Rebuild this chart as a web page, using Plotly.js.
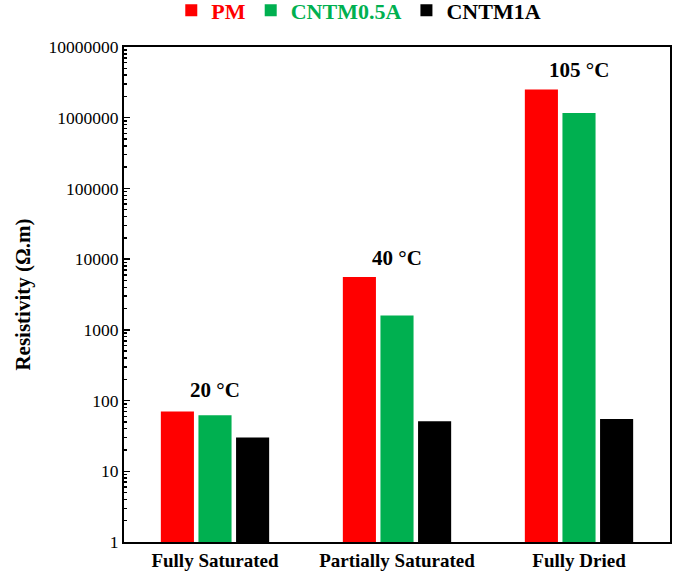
<!DOCTYPE html>
<html><head><meta charset="utf-8">
<script src="https://cdn.plot.ly/plotly-3.0.1.min.js"></script>
<style>html,body{margin:0;padding:0;background:#fff;}</style>
</head><body>
<div id="chart" style="width:678px;height:579px;"></div>
<script>
const categories = ["Fully Saturated", "Partially Saturated", "Fully Dried"];
const seriesNames = ["PM", "CNTM0.5A", "CNTM1A"];
const PM = [70, 5600, 2500000];
const CNTM05A = [62, 1600, 1170000];
const CNTM1A = [30, 51, 55];
const tempLabels = ["20 °C", "40 °C", "105 °C"];
const tempLabelY = [140, 10500, 4700000];
const colors = ["#FF0000", "#00B050", "#000000"];

const values = [PM, CNTM05A, CNTM1A];
const data = values.map((v, i) => ({
  type: "bar",
  x: categories,
  y: v,
  name: '<b><span style="color:' + colors[i] + '">' + seriesNames[i] + '</span></b>',
  marker: {color: colors[i], line: {width: 0}}
}));

const annotations = categories.map((c, i) => ({
  x: c, y: Math.log10(tempLabelY[i]), xref: "x", yref: "y",
  text: "<b>" + tempLabels[i] + "</b>", showarrow: false,
  font: {family: "Liberation Serif", size: 21, color: "#000"}
}));

const layout = {
  width: 678, height: 579,
  margin: {l: 124, r: 8, t: 47, b: 37, autoexpand: false},
  paper_bgcolor: "#fff", plot_bgcolor: "#fff",
  barmode: "group", bargap: 0.38, bargroupgap: 0.12,
  font: {family: "Liberation Serif", color: "#000"},
  showlegend: true,
  legend: {orientation: "h", xref: "paper", x: 0.43, xanchor: "center", yref: "container", y: 0.982, yanchor: "middle",
    font: {family: "Liberation Serif", size: 22}, tracegroupgap: 0},
  xaxis: {
    showline: true, linecolor: "#000", linewidth: 2, mirror: true,
    ticks: "", tickfont: {family: "Liberation Serif", size: 19, weight: "bold"},
    showgrid: false
  },
  yaxis: {
    type: "log", range: [0, 7],
    showline: true, linecolor: "#000", linewidth: 2, mirror: true,
    ticks: "inside", ticklen: 6, tickwidth: 1.5, tickcolor: "#000",
    tickvals: [1, 10, 100, 1000, 10000, 100000, 1000000, 10000000],
    ticktext: ["1", "10", "100", "1000", "10000", "100000", "1000000", "10000000"],
    minor: {ticks: "inside", ticklen: 3, tickcolor: "#000", dtick: "D1", showgrid: false},
    tickfont: {family: "Liberation Serif", size: 17.5},
    showgrid: false, zeroline: false,
    title: {text: "<b>Resistivity (Ω.m)</b>", font: {family: "Liberation Serif", size: 21}, standoff: 12}
  },
  annotations: annotations
};

Plotly.newPlot("chart", data, layout, {displayModeBar: false, staticPlot: true});
</script>
</body></html>
